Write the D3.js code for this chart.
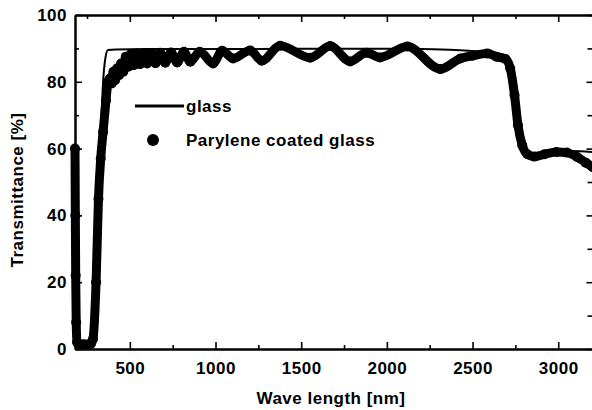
<!DOCTYPE html>
<html>
<head>
<meta charset="utf-8">
<script src="https://cdn.jsdelivr.net/npm/d3@7"></script>
<style>
  body { margin: 0; background: #fff; }
  svg text { font-family: "Liberation Sans", Arial, sans-serif; font-weight: bold; fill: #000; letter-spacing: 0.5px; }
</style>
</head>
<body>
<svg id="chart"></svg>
<script>
// glass (solid thin line)
const glassWl = [180, 220, 265, 285, 300, 315, 332, 344, 357, 372, 420, 600, 1000, 1500, 2000, 2200, 2400, 2550, 2650, 2700, 2720, 2740, 2760, 2780, 2800, 2830, 2870, 2950, 3050, 3130, 3200];
const glassT  = [1, 1, 1, 10, 30, 52, 67, 80, 87, 89.5, 89.7, 89.8, 89.8, 89.9, 89.9, 89.8, 89.5, 89.0, 88.5, 87.8, 85.5, 80, 71, 63, 59, 57.3, 57.2, 58.2, 59.3, 59.2, 59];

// parylene coated glass (dense dots)
const paryWl = [180, 182, 184, 187, 192, 200, 230, 260, 272, 285, 303, 317, 330, 344, 361, 373,
  384, 394, 404, 414, 425, 437, 449, 462, 476, 491, 506, 523, 540, 559, 579, 601, 625, 650, 677, 707,
  740, 776, 816, 852, 908, 986, 1039, 1103, 1202, 1270, 1377, 1553, 1669, 1786, 1880, 1960, 2119,
  2312, 2429, 2500, 2586, 2640, 2692, 2720, 2745, 2765, 2790, 2820, 2860, 2920, 2990, 3050, 3110, 3160, 3200];
const paryT = [60, 40, 22, 8, 2, 1.4, 1.4, 1.4, 1.5, 3, 20, 45, 57, 65, 74.5, 80,
  81, 79.5, 83, 80.5, 84, 82, 85.5, 83, 87.5, 84.5, 88.3, 85, 88.5, 85.3, 88.5, 85.5, 88.6, 85.6, 88.7, 85.7,
  88.8, 85.8, 89, 86, 89, 85.5, 89.3, 87, 89.4, 86.3, 90.8, 87.2, 90.7, 86.1, 88.7, 87.3, 90.6,
  83.8, 87, 87.8, 88.5, 87.5, 86.8, 84, 76, 67, 61, 58.3, 57.6, 58.3, 59, 58.8, 57.5, 55.8, 54.5];

const xMajor = [500, 1000, 1500, 2000, 2500, 3000];
const xMinor = [250, 750, 1250, 1750, 2250, 2750];
const yMajor = [0, 20, 40, 60, 80, 100];
const yMinor = [10, 30, 50, 70, 90];

const W = 592, H = 410;
const margin = {top: 15, right: -0.5, bottom: 61, left: 75};
const width = W - margin.left - margin.right;
const height = H - margin.top - margin.bottom;

const svg = d3.select('#chart').attr('width', W).attr('height', H);
const g = svg.append('g').attr('transform', `translate(${margin.left},${margin.top})`);

const x = d3.scaleLinear().domain([180, 3200]).range([0, width]);
const y = d3.scaleLinear().domain([0, 100]).range([height, 0]);

const glass = glassWl.map((w, i) => ({w: w, t: glassT[i]}));
const pary = paryWl.map((w, i) => ({w: w, t: paryT[i]}));

const line = d3.line().x(d => x(d.w)).y(d => y(d.t)).curve(d3.curveMonotoneX);

// parylene: thick band of dots
g.append('path')
    .datum(pary)
    .attr('d', line)
    .attr('fill', 'none')
    .attr('stroke', '#000')
    .attr('stroke-width', 9)
    .attr('stroke-linejoin', 'round')
    .attr('stroke-linecap', 'round');
g.selectAll('circle.pary')
  .data(pary)
  .join('circle')
    .attr('class', 'pary')
    .attr('cx', d => x(d.w))
    .attr('cy', d => y(d.t))
    .attr('r', 5)
    .attr('fill', '#000');

// glass line
g.append('path')
    .datum(glass)
    .attr('d', line)
    .attr('fill', 'none')
    .attr('stroke', '#000')
    .attr('stroke-width', 2);

// axes, ticks pointing inward
function styleAxis(sel) {
  sel.select('.domain').attr('stroke', '#000').attr('stroke-width', 2);
  sel.selectAll('.tick line').attr('stroke', '#000').attr('stroke-width', 1.6);
  sel.selectAll('.tick text')
      .style('font-size', '17px')
      .style('font-family', '"Liberation Sans", Arial, sans-serif')
      .style('font-weight', 'bold');
}

g.append('g').attr('transform', `translate(0,${height})`)
  .call(d3.axisBottom(x).tickValues(xMajor).tickSizeInner(-7).tickSizeOuter(0).tickPadding(13).tickFormat(d3.format('d')))
  .call(styleAxis);
g.append('g').attr('transform', `translate(0,${height})`)
  .call(d3.axisBottom(x).tickValues(xMinor).tickSizeInner(-4).tickSizeOuter(0).tickFormat(''))
  .call(styleAxis);
g.append('g')
  .call(d3.axisTop(x).tickValues(xMajor).tickSizeInner(-7).tickSizeOuter(0).tickFormat(''))
  .call(styleAxis);
g.append('g')
  .call(d3.axisTop(x).tickValues(xMinor).tickSizeInner(-4).tickSizeOuter(0).tickFormat(''))
  .call(styleAxis);

g.append('g')
  .call(d3.axisLeft(y).tickValues(yMajor).tickSizeInner(-7).tickSizeOuter(0).tickPadding(8))
  .call(styleAxis);
g.append('g')
  .call(d3.axisLeft(y).tickValues(yMinor).tickSizeInner(-4).tickSizeOuter(0).tickFormat(''))
  .call(styleAxis);
g.append('g').attr('transform', `translate(${width},0)`)
  .call(d3.axisRight(y).tickValues(yMajor).tickSizeInner(-6).tickSizeOuter(0).tickFormat(''))
  .call(styleAxis);
g.append('g').attr('transform', `translate(${width},0)`)
  .call(d3.axisRight(y).tickValues(yMinor).tickSizeInner(-5).tickSizeOuter(0).tickFormat(''))
  .call(styleAxis);

// axis titles
svg.append('text')
    .attr('x', 331).attr('y', 404)
    .attr('text-anchor', 'middle')
    .style('font-size', '17px')
    .text('Wave length [nm]');
svg.append('text')
    .attr('transform', 'translate(23,190) rotate(-90)')
    .attr('text-anchor', 'middle')
    .style('font-size', '17px')
    .text('Transmittance [%]');

// legend
const legend = svg.append('g');
legend.append('line')
    .attr('x1', 135).attr('x2', 184).attr('y1', 106).attr('y2', 106)
    .attr('stroke', '#000').attr('stroke-width', 3);
legend.append('text')
    .attr('x', 186).attr('y', 112)
    .style('font-size', '17px')
    .text('glass');
legend.append('circle')
    .attr('cx', 153).attr('cy', 140).attr('r', 6)
    .attr('fill', '#000');
legend.append('text')
    .attr('x', 186).attr('y', 146)
    .style('font-size', '17px')
    .text('Parylene coated glass');
</script>
</body>
</html>
